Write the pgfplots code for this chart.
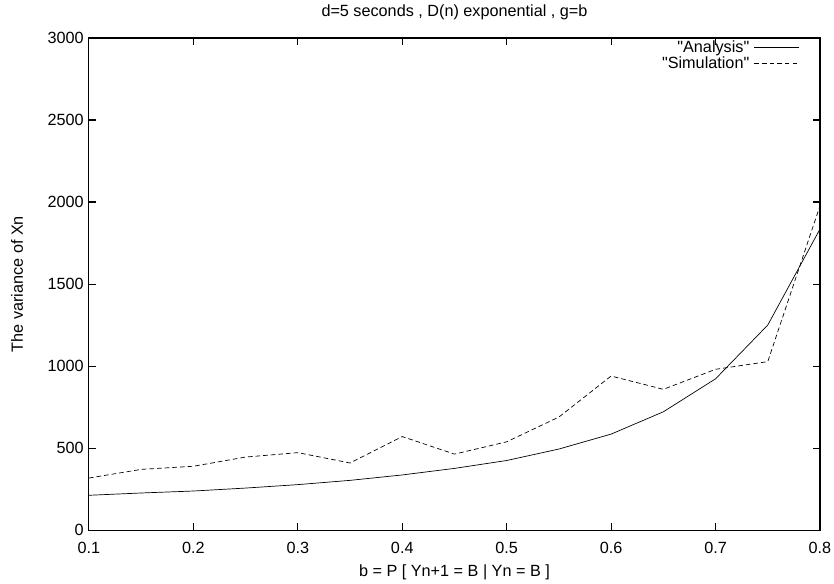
\documentclass[border=0pt]{standalone}
\usepackage{fontspec}
\setmainfont{Liberation Sans}
\newfontfamily\helv{Liberation Sans}
\usepackage{pgfplots}
\pgfplotsset{compat=1.18}
\pgfplotstableread{
x     ana   sim
0.10  212   317
0.15  226   370
0.20  238   389
0.25  256   445
0.30  277   472
0.35  303   409
0.40  336   570
0.45  376   463
0.50  424   538
0.55  494   689
0.60  585   939
0.65  721   858
0.70  922   980
0.75  1250  1027
0.80  1835  1977
}\datatable
\begin{document}
\helv\fontsize{14pt}{16.8pt}\selectfont
\begin{tikzpicture}[font=\helv\fontsize{14pt}{16.8pt}\selectfont]
\begin{axis}[
  scale only axis,
  width=631.1pt, height=424.8pt,
  xmin=0.1, xmax=0.8, ymin=0, ymax=3000,
  xtick={0.1,0.2,0.3,0.4,0.5,0.6,0.7,0.8},
  xticklabels={0.1,0.2,0.3,0.4,0.5,0.6,0.7,0.8},
  ytick={0,500,1000,1500,2000,2500,3000},
  yticklabels={0,500,1000,1500,2000,2500,3000},
  tick align=inside,
  major tick length=6.3pt,
  minor tick num=0,
  axis line style={line width=0.9pt, black},
  every tick/.style={line width=0.9pt, black},
  /pgf/number format/assume math mode=true,
  xticklabel style={anchor=base, inner sep=0pt, yshift=-20.5pt},
  yticklabel style={anchor=east, inner sep=0pt, xshift=-4.3pt},
  xlabel={b = P [ Yn+1 = B | Yn = B ]},
  ylabel={The variance of Xn},
  xlabel style={at={([yshift=-36.5pt]axis description cs:0.5,0)}, anchor=center, inner sep=0pt},
  ylabel style={at={([xshift=-62.1pt]axis description cs:0,0.5)}, anchor=center, inner sep=0pt},
  title={d=5 seconds , D(n) exponential , g=b},
  title style={at={([yshift=16.4pt]axis description cs:0.5,1)}, anchor=center, inner sep=0pt},
  legend plot pos=right,
  legend cell align=right,
  legend image code/.code={\draw[#1] (0pt,1.2pt) -- (39pt,1.2pt);},
  legend style={at={(0.9727,0.9939)}, anchor=north east, draw=none, fill=none,
    inner sep=0pt, row sep=0pt, column sep=4pt,
    nodes={inner sep=0pt, text height=10pt, text depth=3.8pt}},
]
\addplot[black, line width=0.6pt] table[x=x, y=ana] {\datatable};
\addlegendentry{"Analysis"}
\addplot[black, line width=0.6pt, dash pattern=on 4pt off 2.6pt] table[x=x, y=sim] {\datatable};
\addlegendentry{"Simulation"}
\end{axis}
\pgfresetboundingbox
\path (-76.8pt,-46.4pt) rectangle (643.2pt,457.6pt);
\end{tikzpicture}
\end{document}
